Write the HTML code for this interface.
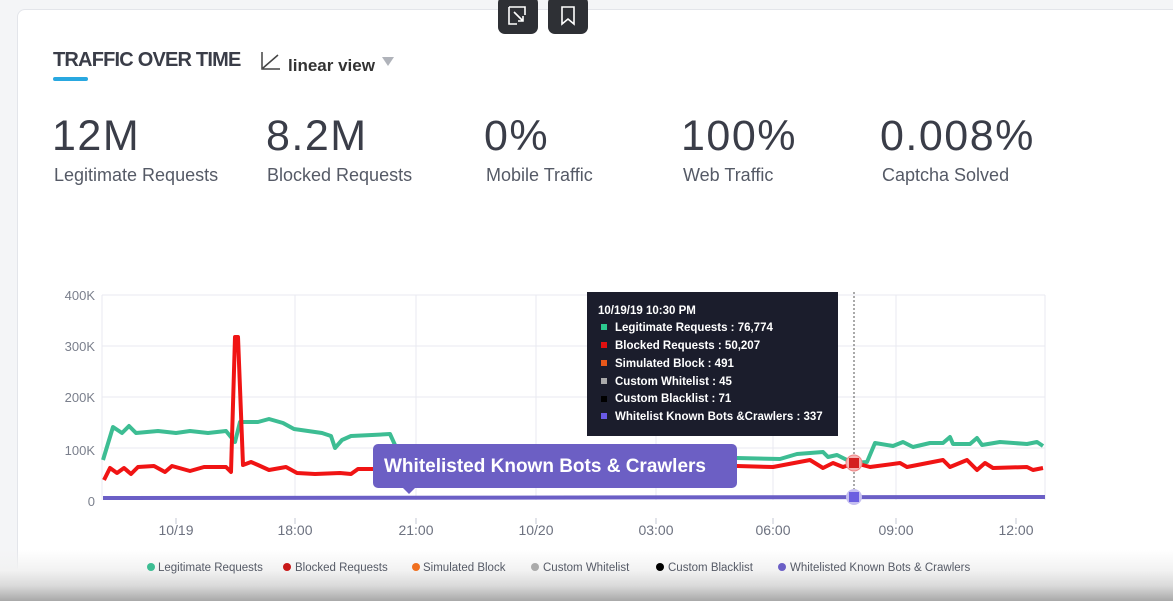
<!DOCTYPE html>
<html><head><meta charset="utf-8"><style>
html,body{margin:0;width:1173px;height:601px;overflow:hidden}
body{background:#f4f5f7;font-family:"Liberation Sans",sans-serif;position:relative}
.card{position:absolute;left:17px;top:9px;width:1170px;height:620px;background:#fff;border:1px solid #e3e5ea;border-radius:8px}
.btn{position:absolute;top:-4px;width:40px;height:38px;background:#2e3035;border-radius:7px}
.t{position:absolute;white-space:nowrap}
.big{font-size:43px;color:#3a3d48;font-weight:300;top:112px;letter-spacing:1.5px}
.lbl{font-size:18px;color:#555a66;top:165px}
.shade{position:absolute;left:0;top:550px;width:1173px;height:51px;background:linear-gradient(#ffffff00,#f2f2f2 40%,#dadada 70%,#a8a8a8)}
svg{position:absolute;left:0;top:0}
</style></head><body>
<div class="card"></div>
<div class="btn" style="left:498px"></div>
<div class="btn" style="left:548px"></div>
<div class="shade"></div>
<svg width="1173" height="601">
<path d="M509 7h16v8M509 7v17h8M514 12l9 9M518 21h5v-5" stroke="#fff" stroke-width="1.6" fill="none"/>
<path d="M562 7h12v17l-6-5-6 5z" stroke="#fff" stroke-width="1.6" fill="none"/>
<rect x="53" y="77" width="35" height="4" rx="2" fill="#29a8e0"/>
<path d="M262 52v17h18M263 68l15-13" stroke="#444" stroke-width="1.5" fill="none"/>
<path d="M382 57h12l-6 9z" fill="#b0b3ba"/>
<g stroke="#e8eaf0" stroke-width="1">
<line x1="102" y1="295" x2="1045" y2="295"/><line x1="102" y1="346" x2="1045" y2="346"/>
<line x1="102" y1="397" x2="1045" y2="397"/><line x1="102" y1="448" x2="1045" y2="448"/>
<line x1="102" y1="295" x2="102" y2="500"/><line x1="1045" y1="295" x2="1045" y2="500"/>
<line x1="295" y1="295" x2="295" y2="500"/><line x1="416" y1="295" x2="416" y2="500"/>
<line x1="536" y1="295" x2="536" y2="500"/><line x1="656" y1="295" x2="656" y2="500"/>
<line x1="773" y1="295" x2="773" y2="500"/><line x1="896" y1="295" x2="896" y2="500"/>
</g>
<g stroke="#d8dbe2" stroke-width="1.5">
<line x1="176" y1="518" x2="176" y2="524"/><line x1="295" y1="518" x2="295" y2="524"/><line x1="416" y1="518" x2="416" y2="524"/><line x1="536" y1="518" x2="536" y2="524"/><line x1="656" y1="518" x2="656" y2="524"/><line x1="773" y1="518" x2="773" y2="524"/><line x1="896" y1="518" x2="896" y2="524"/><line x1="1016" y1="518" x2="1016" y2="524"/>
</g>
<g font-size="13" fill="#7a7f8c" text-anchor="end">
<text x="95" y="300">400K</text><text x="95" y="351">300K</text><text x="95" y="402">200K</text><text x="95" y="455">100K</text><text x="95" y="506">0</text>
</g>
<g font-size="14" fill="#6d7280" text-anchor="middle">
<text x="176" y="535">10/19</text><text x="295" y="535">18:00</text><text x="416" y="535">21:00</text><text x="536" y="535">10/20</text><text x="656" y="535">03:00</text><text x="773" y="535">06:00</text><text x="896" y="535">09:00</text><text x="1016" y="535">12:00</text>
</g>
<line x1="103" y1="498" x2="1045" y2="497" stroke="#6b5fc6" stroke-width="4"/>
<polyline fill="none" stroke="#3dbd93" stroke-width="4" stroke-linejoin="round" points="103,460 113,427 122,433 129,426 136,433 158,431 176,433 190,431 208,433 226,431 235,442 240,422 258,422 269,419 283,423 294,429 322,433 331,436 335,448 342,440 351,436 372,435 390,434 395,445 420,458 500,459 600,459 700,458 737,458 780,459 797,454 823,452 828,457 837,455 853,463 867,462 875,443 893,446 903,442 913,447 930,443 943,443 950,437 953,444 970,444 977,438 982,445 1000,442 1027,444 1037,442 1043,446"/>
<polyline fill="none" stroke="#f01414" stroke-width="4" stroke-linejoin="round" points="104,480 110,468 117,473 124,468 131,474 138,467 154,466 165,472 172,466 190,471 204,467 226,467 231,472 235,337 238,337 243,465 251,462 258,465 269,470 286,467 297,473 315,474 340,473 351,474 358,469 372,469 420,468 500,467 600,467 700,466 737,466 773,467 810,460 823,468 833,463 843,467 855,463 870,467 900,463 907,467 943,460 950,467 967,460 977,470 985,463 993,468 1027,467 1033,470 1043,468"/>
<line x1="854" y1="292" x2="854" y2="500" stroke="#555" stroke-dasharray="2,2"/>
<circle cx="854" cy="463" r="8" fill="#f5b5b5" stroke="#e88" stroke-width="1"/><rect x="849" y="458" width="10" height="10" fill="#d42020"/>
<circle cx="854" cy="497" r="8" fill="#c5bff0"/><rect x="849" y="492" width="10" height="10" fill="#6b5fe0"/>
<rect x="587" y="292" width="251" height="144" fill="#1b1d2c"/>
<g font-size="11.5" font-weight="bold" fill="#fff">
<text x="598" y="314">10/19/19 10:30 PM</text>
<text x="615" y="331">Legitimate Requests : 76,774</text>
<text x="615" y="349">Blocked Requests : 50,207</text>
<text x="615" y="367">Simulated Block : 491</text>
<text x="615" y="385">Custom Whitelist : 45</text>
<text x="615" y="402">Custom Blacklist : 71</text>
<text x="615" y="420">Whitelist Known Bots &amp;Crawlers : 337</text>
</g>
<rect x="601" y="324" width="6" height="6" fill="#2cc98f"/><rect x="601" y="342" width="6" height="6" fill="#e01010"/><rect x="601" y="360" width="6" height="6" fill="#e8581a"/><rect x="601" y="378" width="6" height="6" fill="#aaa"/><rect x="601" y="396" width="6" height="6" fill="#000"/><rect x="601" y="413" width="6" height="6" fill="#6a5ae6"/>
<rect x="373" y="444" width="364" height="44" rx="5" fill="#6c5fc4"/>
<path d="M402 487l7 7 7-7z" fill="#6c5fc4"/>
<text x="384" y="472" font-size="19" font-weight="bold" fill="#fff">Whitelisted Known Bots  &amp; Crawlers</text>
<g font-size="11.5" fill="#555a66">
<circle cx="151" cy="567" r="4" fill="#3dbd93"/><text x="158" y="571">Legitimate Requests</text>
<circle cx="287" cy="567" r="4" fill="#c81818"/><text x="295" y="571">Blocked Requests</text>
<circle cx="416" cy="567" r="4" fill="#f07020"/><text x="423" y="571">Simulated Block</text>
<circle cx="535" cy="567" r="4" fill="#aaa"/><text x="543" y="571">Custom Whitelist</text>
<circle cx="660" cy="567" r="4" fill="#000"/><text x="668" y="571">Custom Blacklist</text>
<circle cx="782" cy="567" r="4" fill="#6b5fc6"/><text x="790" y="571">Whitelisted Known Bots &amp; Crawlers</text>
</g>
</svg>
<div class="t" style="left:53px;top:49px;font-size:20px;font-weight:bold;color:#3a3d48;letter-spacing:-0.8px">TRAFFIC OVER TIME</div>
<div class="t" style="left:288px;top:56px;font-size:17px;font-weight:bold;color:#333">linear view</div>
<div class="t big" style="left:52px">12M</div>
<div class="t big" style="left:266px">8.2M</div>
<div class="t big" style="left:484px">0%</div>
<div class="t big" style="left:681px">100%</div>
<div class="t big" style="left:880px">0.008%</div>
<div class="t lbl" style="left:54px">Legitimate Requests</div>
<div class="t lbl" style="left:267px">Blocked Requests</div>
<div class="t lbl" style="left:486px">Mobile Traffic</div>
<div class="t lbl" style="left:683px">Web Traffic</div>
<div class="t lbl" style="left:882px">Captcha Solved</div>
</body></html>
